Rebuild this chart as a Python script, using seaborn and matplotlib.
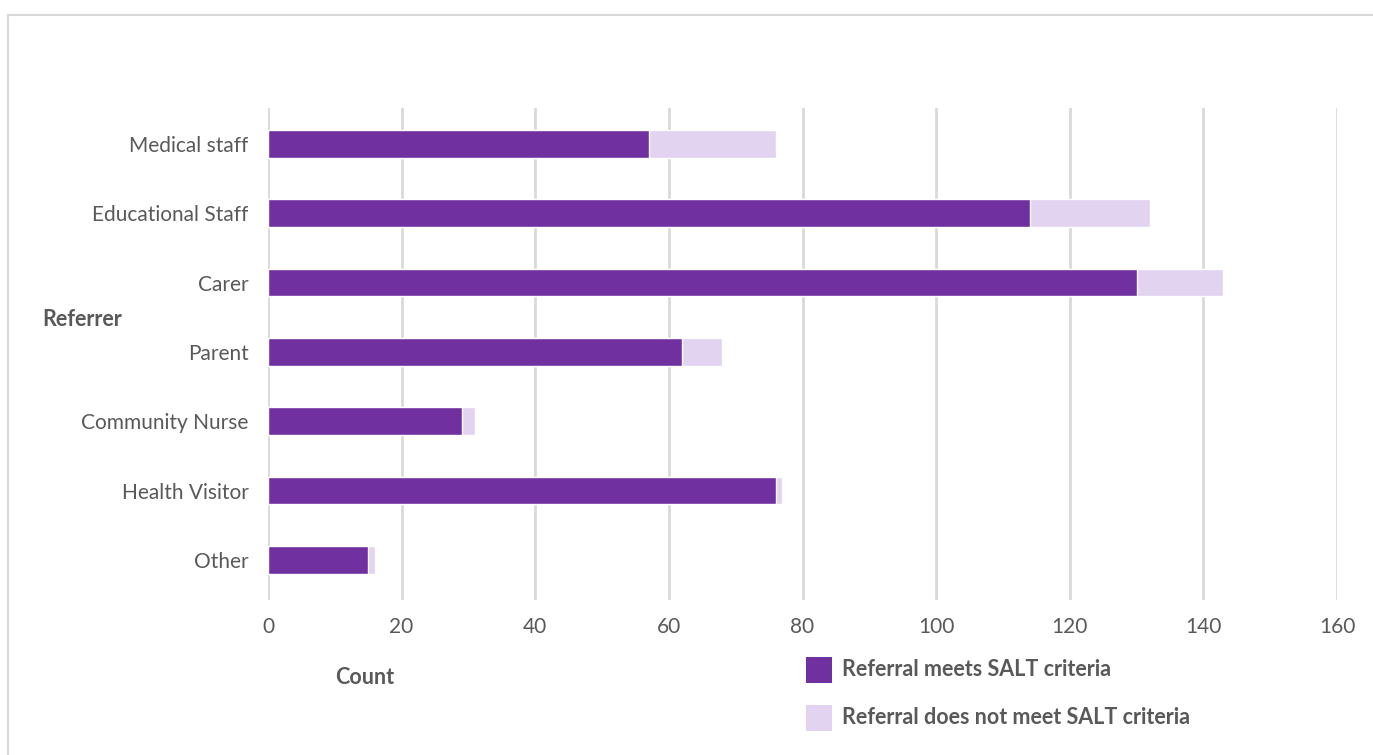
import matplotlib
matplotlib.use("Agg")
import matplotlib.pyplot as plt
import seaborn as sns
import pandas as pd
from matplotlib.patches import Rectangle

categories = ["Medical staff", "Educational Staff", "Carer", "Parent",
              "Community Nurse", "Health Visitor", "Other"]
meets = [57, 114, 130, 62, 29, 76, 15]
not_meets = [19, 18, 13, 6, 2, 1, 1]
xticks = [0, 20, 40, 60, 80, 100, 120, 140, 160]

dark = "#7030A0"
light = "#E2D3F0"
textc = "#595959"

sns.set_theme(style="white")
plt.rcParams['font.family'] = ['Lato', 'DejaVu Sans']

df = pd.DataFrame({"Referrer": categories,
                   "meets": meets,
                   "total": [a + b for a, b in zip(meets, not_meets)]})

fig = plt.figure(figsize=(13.73, 7.55), dpi=100)
ax = fig.add_axes([268/1373, 1-600/755, (1337-268)/1373, (600-108)/755])

sns.barplot(data=df, x="total", y="Referrer", color=light, width=0.4,
            orient="h", ax=ax, saturation=1, order=categories)
sns.barplot(data=df, x="meets", y="Referrer", color=dark, width=0.4,
            orient="h", ax=ax, saturation=1, order=categories)

ax.set_xlim(0, 160)
ax.set_ylim(6.58, -0.52)
ax.set_xticks(xticks)
ax.set_xticklabels([str(t) for t in xticks])
ax.set_axisbelow(True)
ax.grid(axis="x", color="#d9d9d9", linewidth=2)
ax.grid(axis="y", visible=False)
for s in ax.spines.values():
    s.set_visible(False)
ax.tick_params(axis="both", length=0, labelsize=15, labelcolor=textc)
ax.tick_params(axis="y", pad=14)
ax.tick_params(axis="x", pad=12)
ax.set_xlabel("")
ax.set_ylabel("")

fig.text(42/1373, 1-320/755, "Referrer", fontsize=15.5, fontweight="bold",
         color=textc, ha="left", va="center")
fig.text(335/1373, 1-677/755, "Count", fontsize=15.5, fontweight="bold",
         color=textc, ha="left", va="center")

# legend
leg_items = [(dark, "Referral meets SALT criteria", 670),
             (light, "Referral does not meet SALT criteria", 718)]
for col, lab, yc in leg_items:
    fig.patches.append(Rectangle((806/1373, 1-(yc+13)/755), 26/1373, 26/755,
                                 transform=fig.transFigure, facecolor=col,
                                 edgecolor="none"))
    fig.text(842/1373, 1-yc/755, lab, fontsize=15.5, fontweight="bold",
             color=textc, ha="left", va="center")

# outer frame
fig.patches.append(Rectangle((8/1373, -0.01), 1.0, 1-15/755 + 0.01,
                             transform=fig.transFigure, facecolor="none",
                             edgecolor="#d9d9d9", linewidth=1.5))

fig.savefig("out.png", dpi=100, facecolor="white")
